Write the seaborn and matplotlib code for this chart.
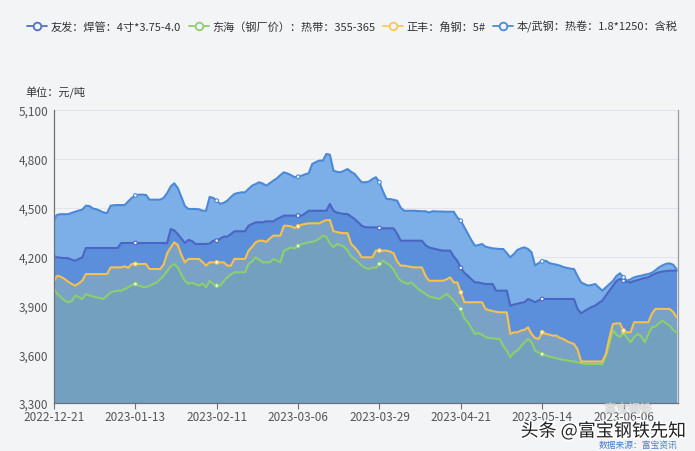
import numpy as np
import pandas as pd
import seaborn as sns
import matplotlib
matplotlib.use("Agg")
import matplotlib.pyplot as plt
from matplotlib.lines import Line2D
import matplotlib.patheffects as pe

# ---------------- data ----------------
series_names = ["友发：焊管：4寸*3.75-4.0", "东海（钢厂价）：热带：355-365",
                "正丰：角钢：5#", "本/武钢：热卷：1.8*1250：含税"]

tick_labels = ["2022-12-21", "2023-01-13", "2023-02-11", "2023-03-06",
               "2023-03-29", "2023-04-21", "2023-05-14", "2023-06-06"]

wugang = [
    4437, 4457, 4460, 4460, 4460, 4468, 4475, 4482, 4488, 4512,
    4510, 4495, 4490, 4481, 4470, 4467, 4512, 4515, 4516, 4516,
    4516, 4539, 4560, 4575, 4580, 4580, 4578, 4549, 4549, 4549,
    4549, 4560, 4590, 4630, 4650, 4620, 4566, 4510, 4492, 4492,
    4492, 4490, 4481, 4481, 4566, 4560, 4543, 4523, 4530, 4543,
    4565, 4584, 4590, 4594, 4594, 4615, 4635, 4645, 4656, 4648,
    4635, 4650, 4666, 4680, 4700, 4717, 4710, 4700, 4687, 4690,
    4696, 4705, 4711, 4768, 4780, 4789, 4789, 4830, 4825, 4727,
    4720, 4717, 4727, 4737, 4720, 4707, 4680, 4656, 4656, 4660,
    4676, 4687, 4656, 4600, 4553, 4553, 4548, 4543, 4500, 4481,
    4481, 4481, 4481, 4479, 4478, 4478, 4470, 4478, 4477, 4476,
    4476, 4475, 4475, 4475, 4440, 4420, 4380, 4340, 4300, 4266,
    4270, 4277, 4260, 4255, 4250, 4248, 4246, 4246, 4220, 4195,
    4215, 4240, 4250, 4256, 4246, 4226, 4144, 4160, 4170, 4174,
    4160, 4154, 4150, 4144, 4135, 4130, 4125, 4123, 4080, 4041,
    4030, 4021, 4025, 4031, 4010, 3990, 4010, 4030, 4050, 4080,
    4097, 4072, 4051, 4060, 4072, 4078, 4082, 4088, 4092, 4100,
    4115, 4133, 4145, 4155, 4158, 4150, 4123]

youfa = [
    4195, 4195, 4192, 4190, 4190, 4180, 4174, 4185, 4195, 4252,
    4252, 4252, 4252, 4252, 4252, 4252, 4252, 4252, 4252, 4283,
    4283, 4283, 4283, 4283, 4283, 4283, 4283, 4283, 4283, 4283,
    4283, 4283, 4283, 4369, 4360, 4338, 4310, 4283, 4302, 4295,
    4277, 4277, 4277, 4277, 4280, 4297, 4297, 4310, 4322, 4322,
    4338, 4355, 4355, 4355, 4355, 4389, 4400, 4410, 4410, 4410,
    4416, 4416, 4416, 4430, 4440, 4451, 4451, 4451, 4451, 4451,
    4451, 4465, 4481, 4481, 4481, 4481, 4481, 4481, 4523, 4481,
    4470, 4465, 4461, 4461, 4445, 4430, 4410, 4389, 4380, 4379,
    4379, 4379, 4375, 4373, 4373, 4373, 4373, 4340, 4297, 4297,
    4297, 4297, 4297, 4297, 4297, 4270, 4256, 4250, 4245, 4240,
    4236, 4236, 4236, 4200, 4174, 4130, 4100, 4082, 4060, 4041,
    4041, 4035, 4031, 4031, 4031, 3990, 3990, 3990, 3990, 3898,
    3905, 3910, 3915, 3919, 3939, 3930, 3919, 3930, 3939, 3939,
    3939, 3939, 3939, 3939, 3939, 3939, 3939, 3939, 3878, 3851,
    3865, 3878, 3890, 3898, 3915, 3929, 3960, 3990, 4020, 4050,
    4062, 4051, 4045, 4041, 4050, 4055, 4062, 4068, 4072, 4085,
    4095, 4103, 4108, 4110, 4113, 4113, 4113]

zhengfeng = [
    4062, 4082, 4075, 4062, 4045, 4031, 4021, 4035, 4051, 4092,
    4092, 4092, 4092, 4092, 4092, 4092, 4133, 4133, 4133, 4133,
    4140, 4130, 4154, 4154, 4154, 4154, 4154, 4123, 4123, 4123,
    4123, 4150, 4220, 4256, 4287, 4270, 4210, 4164, 4185, 4185,
    4185, 4185, 4165, 4144, 4164, 4164, 4164, 4164, 4164, 4144,
    4144, 4185, 4185, 4185, 4185, 4236, 4260, 4287, 4297, 4297,
    4290, 4310, 4328, 4328, 4328, 4389, 4389, 4385, 4375, 4385,
    4395, 4400, 4404, 4404, 4404, 4404, 4415, 4424, 4424, 4355,
    4350, 4345, 4343, 4343, 4277, 4256, 4230, 4195, 4195, 4195,
    4195, 4236, 4236, 4236, 4236, 4230, 4220, 4170, 4144, 4144,
    4140, 4135, 4133, 4133, 4133, 4082, 4051, 4051, 4051, 4051,
    4051, 4060, 4072, 4041, 4041, 3980, 3919, 3919, 3919, 3919,
    3919, 3919, 3878, 3870, 3865, 3860, 3857, 3857, 3857, 3724,
    3734, 3734, 3745, 3749, 3765, 3724, 3700, 3693, 3734, 3725,
    3720, 3714, 3714, 3700, 3693, 3680, 3670, 3663, 3630, 3555,
    3555, 3555, 3555, 3555, 3555, 3555, 3600, 3700, 3785, 3789,
    3789, 3745, 3734, 3734, 3796, 3796, 3796, 3796, 3796, 3847,
    3878, 3878, 3878, 3878, 3878, 3860, 3827]

donghai = [
    3990, 3970, 3949, 3930, 3919, 3925, 3960, 3950, 3939, 3970,
    3960, 3955, 3949, 3945, 3939, 3960, 3980, 3985, 3990, 3990,
    4000, 4011, 4025, 4031, 4020, 4015, 4011, 4020, 4031, 4040,
    4060, 4082, 4110, 4140, 4154, 4133, 4090, 4051, 4031, 4040,
    4030, 4021, 4035, 4011, 4051, 4030, 4021, 4021, 4050, 4072,
    4090, 4103, 4103, 4103, 4103, 4154, 4170, 4195, 4180, 4164,
    4164, 4164, 4185, 4175, 4164, 4236, 4245, 4256, 4250, 4265,
    4277, 4282, 4287, 4290, 4297, 4310, 4328, 4320, 4280, 4256,
    4277, 4270, 4260, 4236, 4200, 4185, 4165, 4144, 4130, 4123,
    4133, 4130, 4154, 4174, 4160, 4144, 4120, 4080, 4051, 4040,
    4031, 4040, 4020, 4000, 3985, 3970, 3955, 3949, 3945, 3939,
    3955, 3970, 3950, 3929, 3900, 3878, 3820, 3796, 3760, 3724,
    3730, 3720, 3704, 3700, 3697, 3695, 3693, 3650, 3622, 3581,
    3610, 3622, 3650, 3673, 3693, 3673, 3622, 3610, 3600, 3592,
    3585, 3580, 3575, 3570, 3565, 3562, 3558, 3555, 3550, 3545,
    3540, 3540, 3540, 3540, 3540, 3540, 3590, 3663, 3745, 3720,
    3704, 3734, 3700, 3673, 3704, 3724, 3710, 3673, 3720, 3765,
    3770, 3790, 3806, 3790, 3776, 3750, 3734]

# ---------------- style ----------------
line_colors = ["#4a66c4", "#8dcf6c", "#f7c24c", "#4a88d8"]
legend_colors = ["#5470c6", "#91cc75", "#fac858", "#4b8ad6"]
fill_colors = ["#5b8fdc", "#74a0c0", "#7aa1c6", "#7cafe8"]
bg = "#f3f4f6"

sns.set_theme(style="white")
plt.rcParams["font.family"] = ["Noto Sans CJK SC", "DejaVu Sans"]

values = [youfa, donghai, zhengfeng, wugang]
n = len(wugang)
idx = np.arange(n)
df = pd.concat([pd.DataFrame({"i": idx, "price": v, "series": s})
                for s, v in zip(series_names, values)], ignore_index=True)

fig = plt.figure(figsize=(6.95, 4.52), dpi=100, facecolor=bg)
ax = fig.add_axes([54 / 695, 1 - 404 / 452, 624 / 695, 293 / 452])
ax.set_facecolor(bg)

ymin, ymax = 3300, 5100
fill_order = [3, 0, 2, 1]
for k, z in zip(fill_order, [1, 2, 3, 4]):
    ax.fill_between(idx, values[k], ymin, color=fill_colors[k], lw=0, zorder=z)

palette = dict(zip(series_names, line_colors))
sns.lineplot(data=df, x="i", y="price", hue="series", palette=palette,
             linewidth=1.5, legend=False, ax=ax, zorder=6)

mk = df[df["i"] % 23 == 0]
sns.scatterplot(data=mk, x="i", y="price", hue="series", palette=palette,
                s=7, linewidth=0.8, legend=False, ax=ax, zorder=7)
coll = ax.collections[-1]
fcs = coll.get_facecolors()
coll.set_edgecolors(fcs)
coll.set_facecolors("white")

ax.set_xlim(0, n - 0.6)
ax.set_ylim(ymin, ymax)
ax.set_yticks(np.arange(ymin, ymax + 1, 300))
ax.set_yticklabels([f"{v:,}" for v in range(ymin, ymax + 1, 300)])
ax.set_xticks(np.arange(0, n, 23))
ax.set_xticklabels(tick_labels)
ax.set_xlabel("")
ax.set_ylabel("")
ax.grid(axis="y", color="#e2e5ea", linewidth=0.8, zorder=0)
ax.set_axisbelow(True)
ax.tick_params(axis="x", length=4, width=0.8, color="#6e7079", pad=1,
               labelsize=8.5, labelcolor="#555555", bottom=True)
ax.tick_params(axis="y", length=0, pad=4, labelsize=8.5, labelcolor="#555555")
for side in ["left", "bottom"]:
    ax.spines[side].set_color("#6e7079")
    ax.spines[side].set_linewidth(0.9)
ax.spines["top"].set_visible(False)
ax.spines["right"].set_color("#9a9ca3")
ax.spines["right"].set_linewidth(0.9)
for sp in ax.spines.values():
    sp.set_zorder(10)

# legend
handles = [Line2D([0], [0], color=c, lw=1.3, marker="o", markersize=5.5,
                  markerfacecolor=bg, markeredgewidth=1.3)
           for c in legend_colors]
fig.legend(handles, series_names, loc="center", bbox_to_anchor=(0.507, 1 - 27 / 452),
           ncol=4, frameon=False, fontsize=8.0, handlelength=1.8,
           handletextpad=0.3, columnspacing=0.7, labelcolor="#333333")

fig.text(25 / 695, 1 - 93 / 452, "单位：元/吨", fontsize=8, color="#333333",
         ha="left", va="center")

fig.text(628 / 695, 1 - 410 / 452, "富宝钢铁", fontsize=8.5, color="#ffffff",
         alpha=0.45, ha="center", va="center",
         path_effects=[pe.withStroke(linewidth=0.8, foreground="#aaaaaa")])
fig.text(603 / 695, 1 - 432 / 452, "头条 @富宝钢铁先知", fontsize=13,
         color="#222222", ha="center", va="center",
         path_effects=[pe.withStroke(linewidth=2.5, foreground="white")])
fig.text(677 / 695, 1 - 445 / 452, "数据来源：富宝资讯", fontsize=6.3,
         color="#4a7fd0", ha="right", va="center")

fig.savefig("out.png", dpi=100, facecolor=bg)
